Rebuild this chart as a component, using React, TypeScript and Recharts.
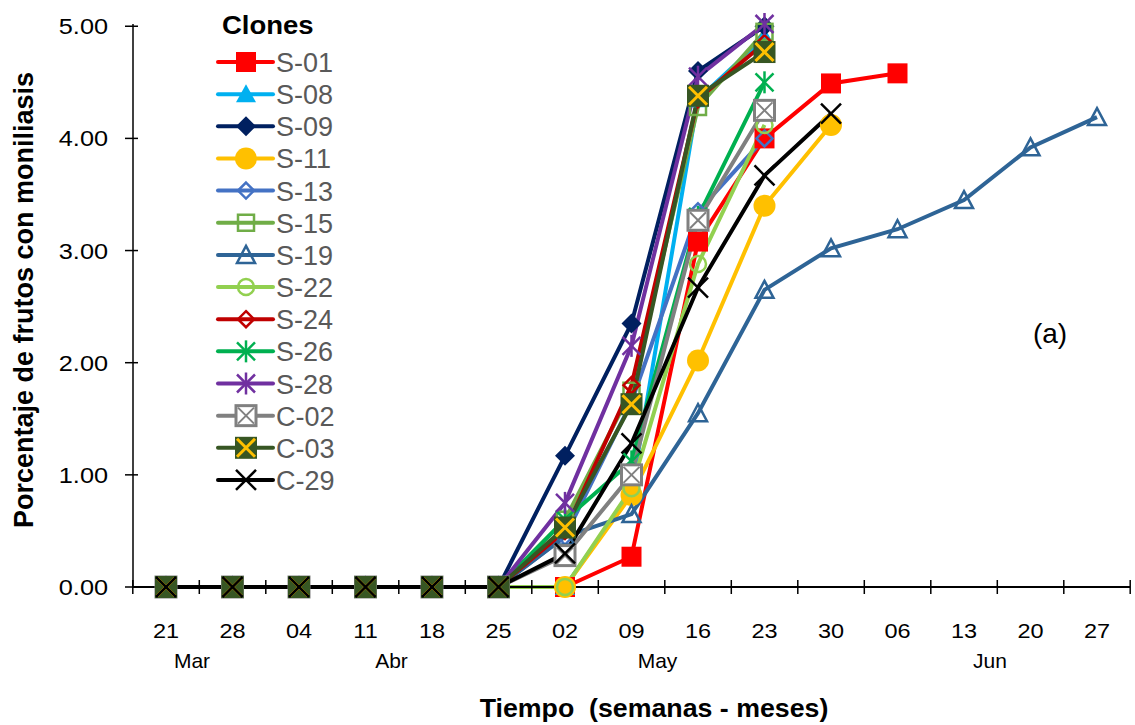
import { LineChart, Line, XAxis, YAxis, Legend } from "recharts";

const days = ["21", "28", "04", "11", "18", "25", "02", "09", "16", "23", "30", "06", "13", "20", "27"];
const months = ["Mar", "", "", "Abr", "", "", "", "May", "", "", "", "", "Jun", "", ""];
const yTicks = [0, 1, 2, 3, 4, 5];

const s01 = [0, 0, 0, 0, 0, 0, 0, 0.27, 3.08, 4.0, 4.49, 4.58, null, null, null];
const s08 = [0, 0, 0, 0, 0, 0, 0, 0.85, 4.35, 4.9, null, null, null, null, null];
const s09 = [0, 0, 0, 0, 0, 0, 1.17, 2.35, 4.6, 5.0, null, null, null, null, null];
const s11 = [0, 0, 0, 0, 0, 0, 0, 0.82, 2.02, 3.4, 4.12, null, null, null, null];
const s13 = [0, 0, 0, 0, 0, 0, 0.45, 1.65, 3.35, 4.0, null, null, null, null, null];
const s15 = [0, 0, 0, 0, 0, 0, 0.6, 1.75, 4.28, 4.95, null, null, null, null, null];
const s19 = [0, 0, 0, 0, 0, 0, 0.45, 0.65, 1.55, 2.65, 3.02, 3.19, 3.45, 3.92, 4.19];
const s22 = [0, 0, 0, 0, 0, 0, 0, 0.88, 2.88, 4.12, null, null, null, null, null];
const s24 = [0, 0, 0, 0, 0, 0, 0.5, 1.8, 4.35, 4.85, null, null, null, null, null];
const s26 = [0, 0, 0, 0, 0, 0, 0.6, 1.12, 3.3, 4.5, null, null, null, null, null];
const s28 = [0, 0, 0, 0, 0, 0, 0.75, 2.15, 4.55, 5.02, null, null, null, null, null];
const c02 = [0, 0, 0, 0, 0, 0, 0.28, 1.0, 3.27, 4.25, null, null, null, null, null];
const c03 = [0, 0, 0, 0, 0, 0, 0.53, 1.63, 4.38, 4.77, null, null, null, null, null];
const c29 = [0, 0, 0, 0, 0, 0, 0.3, 1.28, 2.67, 3.67, 4.22, null, null, null, null];

type Shape =
  | "square" | "triangle" | "diamond" | "circle"
  | "hdiamond" | "hsquare" | "htriangle" | "hcircle"
  | "star" | "xbox" | "c03" | "x";

const series: { key: string; values: (number | null)[]; color: string; shape: Shape }[] = [
  { key: "S-01", values: s01, color: "#FF0000", shape: "square" },
  { key: "S-08", values: s08, color: "#00B0F0", shape: "triangle" },
  { key: "S-09", values: s09, color: "#002060", shape: "diamond" },
  { key: "S-11", values: s11, color: "#FFC000", shape: "circle" },
  { key: "S-13", values: s13, color: "#4472C4", shape: "hdiamond" },
  { key: "S-15", values: s15, color: "#70AD47", shape: "hsquare" },
  { key: "S-19", values: s19, color: "#2E6496", shape: "htriangle" },
  { key: "S-22", values: s22, color: "#92D050", shape: "hcircle" },
  { key: "S-24", values: s24, color: "#C00000", shape: "hdiamond" },
  { key: "S-26", values: s26, color: "#00B050", shape: "star" },
  { key: "S-28", values: s28, color: "#7030A0", shape: "star" },
  { key: "C-02", values: c02, color: "#808080", shape: "xbox" },
  { key: "C-03", values: c03, color: "#375623", shape: "c03" },
  { key: "C-29", values: c29, color: "#000000", shape: "x" },
];

const data = days.map((d, i) => {
  const row: Record<string, string | number | null> = { day: d, month: months[i] };
  series.forEach((s) => {
    row[s.key] = s.values[i];
  });
  return row;
});

const FONT = "'Liberation Sans', Arial, sans-serif";
const HALF = 33.2;

function marker(shape: Shape, cx: number, cy: number, color: string, key?: string) {
  switch (shape) {
    case "square":
      return <rect key={key} x={cx - 10} y={cy - 10} width={20} height={20} fill={color} />;
    case "triangle":
      return <polygon key={key} points={`${cx},${cy - 10} ${cx + 10},${cy + 8} ${cx - 10},${cy + 8}`} fill={color} />;
    case "diamond":
      return <polygon key={key} points={`${cx},${cy - 10} ${cx + 10},${cy} ${cx},${cy + 10} ${cx - 10},${cy}`} fill={color} />;
    case "circle":
      return <circle key={key} cx={cx} cy={cy} r={11} fill={color} />;
    case "hdiamond":
      return <polygon key={key} points={`${cx},${cy - 8} ${cx + 8},${cy} ${cx},${cy + 8} ${cx - 8},${cy}`} fill="none" stroke={color} strokeWidth={2.5} />;
    case "hsquare":
      return <rect key={key} x={cx - 8} y={cy - 8} width={16} height={16} fill="none" stroke={color} strokeWidth={2.5} />;
    case "htriangle":
      return <polygon key={key} points={`${cx},${cy - 9} ${cx + 9},${cy + 8} ${cx - 9},${cy + 8}`} fill="none" stroke={color} strokeWidth={2.5} />;
    case "hcircle":
      return <circle key={key} cx={cx} cy={cy} r={8} fill="none" stroke={color} strokeWidth={2.5} />;
    case "star":
      return (
        <g key={key} stroke={color} strokeWidth={2.5}>
          <line x1={cx - 9} y1={cy - 9} x2={cx + 9} y2={cy + 9} />
          <line x1={cx - 9} y1={cy + 9} x2={cx + 9} y2={cy - 9} />
          <line x1={cx} y1={cy - 11} x2={cx} y2={cy + 11} />
        </g>
      );
    case "xbox":
      return (
        <g key={key} stroke={color}>
          <rect x={cx - 10} y={cy - 10} width={20} height={20} fill="#fff" strokeWidth={3} />
          <line x1={cx - 8} y1={cy - 8} x2={cx + 8} y2={cy + 8} strokeWidth={2} />
          <line x1={cx - 8} y1={cy + 8} x2={cx + 8} y2={cy - 8} strokeWidth={2} />
        </g>
      );
    case "c03":
      return (
        <g key={key}>
          <rect x={cx - 11} y={cy - 11} width={22} height={22} fill={color} />
          <line x1={cx - 9} y1={cy - 9} x2={cx + 9} y2={cy + 9} stroke="#FFC000" strokeWidth={3} />
          <line x1={cx - 9} y1={cy + 9} x2={cx + 9} y2={cy - 9} stroke="#FFC000" strokeWidth={3} />
        </g>
      );
    case "x":
    default:
      return (
        <g key={key} stroke={color} strokeWidth={2.5}>
          <line x1={cx - 10} y1={cy - 10} x2={cx + 10} y2={cy + 10} />
          <line x1={cx - 10} y1={cy + 10} x2={cx + 10} y2={cy - 10} />
        </g>
      );
  }
}

const XTick = (props: any) => {
  const { x, y, index, payload } = props;
  const last = index === days.length - 1;
  return (
    <g>
      <line x1={x - HALF} x2={x - HALF} y1={y - 7} y2={y + 7} stroke="#000" strokeWidth={1.5} />
      {last && <line x1={x + HALF} x2={x + HALF} y1={y - 7} y2={y + 7} stroke="#000" strokeWidth={1.5} />}
      <text
        transform={`translate(${x} ${y + 51}) scale(1.12 1)`}
        textAnchor="middle"
        fontSize={21}
        fontFamily={FONT}
        fill="#000"
      >
        {payload.value}
      </text>
      {months[index] && (
        <text x={x + 26} y={y + 81} textAnchor="middle" fontSize={21} fontFamily={FONT} fill="#000">
          {months[index]}
        </text>
      )}
    </g>
  );
};

const YTick = (props: any) => {
  const { x, y, payload } = props;
  return (
    <g>
      <line x1={x - 8} x2={x + 5} y1={y} y2={y} stroke="#000" strokeWidth={1.5} />
      <text
        transform={`translate(${x - 25} ${y + 8}) scale(1.15 1)`}
        textAnchor="end"
        fontSize={22}
        fontFamily={FONT}
        fill="#000"
      >
        {Number(payload.value).toFixed(2)}
      </text>
    </g>
  );
};

const LegendBox = () => (
  <svg width={160} height={500} style={{ display: "block" }}>
    <text transform="translate(12 34) scale(1.1 1)" fontSize={25} fontWeight="bold" fontFamily={FONT} fill="#000">
      Clones
    </text>
    {series.map((s, i) => {
      const cy = 62 + i * 32.15;
      return (
        <g key={s.key}>
          <line x1={8} x2={63} y1={cy} y2={cy} stroke={s.color} strokeWidth={4} strokeLinecap="round" />
          {marker(s.shape, 36, cy, s.color)}
          <text x={66} y={cy + 10} fontSize={27} fontFamily={FONT} fill="#595959">
            {s.key}
          </text>
        </g>
      );
    })}
  </svg>
);

export default function App() {
  return (
    <div style={{ position: "absolute", left: 0, top: 0, width: 1135, height: 725, background: "#fff" }}>
      <LineChart width={1135} height={725} data={data} margin={{ top: 24, right: 5, bottom: 38, left: 53 }}>
        <XAxis
          dataKey="day"
          interval={0}
          padding={{ left: 33, right: 33 }}
          tickLine={false}
          tickSize={0}
          tickMargin={0}
          height={100}
          tick={<XTick />}
          axisLine={{ stroke: "#000", strokeWidth: 2 }}
        />
        <YAxis
          domain={[0, 5]}
          ticks={yTicks}
          width={80}
          tickSize={0}
          tickMargin={0}
          tickLine={false}
          tick={<YTick />}
          axisLine={{ stroke: "#000", strokeWidth: 1.5 }}
        />
        <Legend
          content={() => <LegendBox />}
          layout="horizontal"
          align="center"
          verticalAlign="middle"
          wrapperStyle={{ left: 210, top: 0, width: 160 }}
        />
        {series.map((s) => (
          <Line
            key={s.key}
            dataKey={s.key}
            stroke={s.color}
            strokeWidth={4}
            isAnimationActive={false}
            connectNulls={false}
            dot={(p: any) =>
              p.cx == null || p.cy == null || p.value == null ? (
                <g key={`${s.key}-${p.index}`} />
              ) : (
                marker(s.shape, p.cx, p.cy, s.color, `${s.key}-${p.index}`)
              )
            }
            activeDot={false}
          />
        ))}
      </LineChart>
      <svg width={1135} height={725} style={{ position: "absolute", left: 0, top: 0, pointerEvents: "none" }}>
        <text
          transform="translate(33 300) rotate(-90)"
          textAnchor="middle"
          fontSize={27}
          fontWeight="bold"
          fontFamily={FONT}
          fill="#000"
        >
          Porcentaje de frutos con moniliasis
        </text>
        <text
          transform="translate(654 717) scale(1.07 1)"
          textAnchor="middle"
          fontSize={25}
          fontWeight="bold"
          fontFamily={FONT}
          fill="#000"
          xmlSpace="preserve"
        >
          Tiempo  (semanas - meses)
        </text>
        <text x={1050} y={343} textAnchor="middle" fontSize={28} fontFamily={FONT} fill="#000">
          (a)
        </text>
      </svg>
    </div>
  );
}
